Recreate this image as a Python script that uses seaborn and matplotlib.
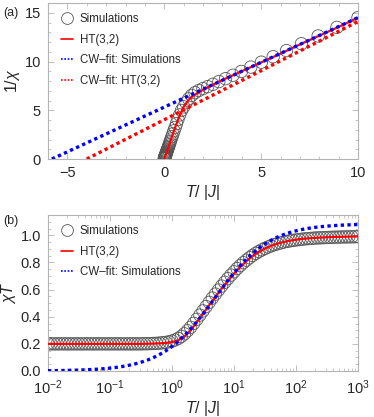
import matplotlib
matplotlib.use('Agg')
import matplotlib.pyplot as plt
import seaborn as sns
import numpy as np
from matplotlib.lines import Line2D
from matplotlib.ticker import AutoMinorLocator, MultipleLocator, LogLocator, NullFormatter

# ---- data ----
# simulation temperatures (log spaced, 0.05 decade), T/|J|
sim_T = [0.0100, 0.0112, 0.0126, 0.0141, 0.0158, 0.0178, 0.0200, 0.0224, 0.0251, 0.0282,
         0.0316, 0.0355, 0.0398, 0.0447, 0.0501, 0.0562, 0.0631, 0.0708, 0.0794, 0.0891,
         0.100, 0.112, 0.126, 0.141, 0.158, 0.178, 0.200, 0.224, 0.251, 0.282,
         0.316, 0.355, 0.398, 0.447, 0.501, 0.562, 0.631, 0.708, 0.794, 0.891,
         1.000, 1.122, 1.259, 1.413, 1.585, 1.778, 1.995, 2.239, 2.512, 2.818,
         3.162, 3.548, 3.981, 4.467, 5.012, 5.623, 6.310, 7.079, 7.943, 8.913,
         10.00, 11.22, 12.59, 14.13, 15.85, 17.78, 19.95, 22.39, 25.12, 28.18,
         31.62, 35.48, 39.81, 44.67, 50.12, 56.23, 63.10, 70.79, 79.43, 89.13,
         100.0, 112.2, 125.9, 141.3, 158.5, 177.8, 199.5, 223.9, 251.2, 281.8,
         316.2, 354.8, 398.1, 446.7, 501.2, 562.3, 631.0, 707.9, 794.3, 891.3,
         1000.0]

# panel (a): 1/chi of the simulations (points with T <= 10)
sim_inv_chi = [0.058, 0.065, 0.073, 0.082, 0.092, 0.103, 0.116, 0.130, 0.146, 0.164,
               0.183, 0.206, 0.231, 0.259, 0.291, 0.326, 0.366, 0.411, 0.461, 0.517,
               0.58, 0.65, 0.73, 0.82, 0.92, 1.03, 1.16, 1.30, 1.45, 1.63,
               1.83, 2.05, 2.30, 2.58, 2.89, 3.23, 3.63, 4.07, 4.52, 4.98,
               5.35, 5.78, 6.17, 6.52, 6.80, 7.02, 7.22, 7.42, 7.66, 7.94,
               8.24, 8.59, 8.98, 9.43, 9.93, 10.49, 11.12, 11.82, 12.62, 13.50,
               14.50]

ht_a_T = [0.0, 0.25, 0.5, 0.75, 1.0, 1.25, 1.5, 1.75, 2.0, 2.5, 3.0, 4.0, 5.0, 6.0, 7.0, 8.0, 9.0, 10.0]
ht_a_inv_chi = [0.0, 1.45, 2.9, 4.25, 5.35, 6.05, 6.5, 6.8, 7.1, 7.6, 8.1, 9.0, 9.9, 10.8, 11.75, 12.65, 13.55, 14.5]

cw_sim_T = [-5.8, 10.0]
cw_sim_inv_chi = [0.0, 14.5]
cw_ht_T = [-4.0, 10.0]
cw_ht_inv_chi = [0.0, 14.1]

# panel (b): chi*T
sim_chiT = [0.200, 0.200, 0.200, 0.200, 0.200, 0.200, 0.200, 0.200, 0.200, 0.200,
            0.200, 0.200, 0.200, 0.200, 0.200, 0.200, 0.200, 0.200, 0.200, 0.200,
            0.200, 0.200, 0.200, 0.200, 0.200, 0.200, 0.200, 0.200, 0.200, 0.200,
            0.200, 0.201, 0.201, 0.202, 0.203, 0.204, 0.206, 0.208, 0.211, 0.215,
            0.221, 0.229, 0.240, 0.255, 0.274, 0.297, 0.322, 0.351, 0.381, 0.412,
            0.443, 0.475, 0.506, 0.537, 0.567, 0.597, 0.626, 0.654, 0.681, 0.707,
            0.731, 0.755, 0.777, 0.798, 0.817, 0.835, 0.852, 0.867, 0.881, 0.893,
            0.904, 0.914, 0.923, 0.931, 0.938, 0.944, 0.950, 0.955, 0.959, 0.963,
            0.966, 0.969, 0.972, 0.974, 0.976, 0.978, 0.980, 0.981, 0.982, 0.983,
            0.984, 0.985, 0.986, 0.987, 0.987, 0.988, 0.988, 0.989, 0.989, 0.990,
            0.990]

line_T = [0.0100, 0.0126, 0.0158, 0.0200, 0.0251, 0.0316, 0.0398, 0.0501, 0.0631, 0.0794,
          0.100, 0.126, 0.158, 0.200, 0.251, 0.316, 0.398, 0.501, 0.631, 0.794,
          1.000, 1.259, 1.585, 1.995, 2.512, 3.162, 3.981, 5.012, 6.310, 7.943,
          10.00, 12.59, 15.85, 19.95, 25.12, 31.62, 39.81, 50.12, 63.10, 79.43,
          100.0, 125.9, 158.5, 199.5, 251.2, 316.2, 398.1, 501.2, 631.0, 794.3,
          1000.0]
ht_chiT = [0.200, 0.200, 0.200, 0.200, 0.200, 0.200, 0.200, 0.200, 0.200, 0.200,
           0.200, 0.200, 0.200, 0.200, 0.200, 0.200, 0.201, 0.202, 0.204, 0.207,
           0.213, 0.226, 0.255, 0.300, 0.360, 0.423, 0.485, 0.547, 0.607, 0.664,
           0.718, 0.767, 0.810, 0.847, 0.878, 0.903, 0.923, 0.939, 0.951, 0.961,
           0.968, 0.974, 0.978, 0.981, 0.984, 0.986, 0.988, 0.989, 0.990, 0.991,
           0.992]
cw_chiT = [0.0022, 0.0027, 0.0034, 0.0043, 0.0054, 0.0068, 0.0086, 0.0108, 0.0135, 0.0170,
           0.0213, 0.0267, 0.0332, 0.0417, 0.0519, 0.0645, 0.0800, 0.0988, 0.1216, 0.1487,
           0.1808, 0.2183, 0.2612, 0.3094, 0.3628, 0.4203, 0.4809, 0.5431, 0.6053, 0.6659,
           0.7233, 0.7766, 0.8248, 0.8676, 0.9049, 0.9369, 0.9639, 0.9866, 1.0053, 1.0207,
           1.0333, 1.0436, 1.0518, 1.0585, 1.0638, 1.0681, 1.0715, 1.0743, 1.0764, 1.0782,
           1.0796]

# ---- style ----
sns.set_style('ticks')
plt.rcParams['font.family'] = ['Liberation Sans', 'DejaVu Sans']
plt.rcParams['mathtext.fontset'] = 'custom'
plt.rcParams['mathtext.rm'] = 'Liberation Sans'
plt.rcParams['mathtext.it'] = 'Liberation Sans:italic'
plt.rcParams['mathtext.default'] = 'it'

frame_col = '#b4b4b4'
circ_col = '#555555'
dot_ls = (0, (1.0, 1.0))

fig = plt.figure(figsize=(3.74, 4.17), dpi=100)
ax_a = fig.add_axes([48 / 374, 1 - 159 / 417, 310 / 374, 156 / 417])
ax_b = fig.add_axes([48 / 374, 1 - 371 / 417, 310 / 374, 156 / 417])


def style_frame(ax):
    for sp in ax.spines.values():
        sp.set_color(frame_col)
        sp.set_linewidth(0.8)
    ax.tick_params(which='both', direction='in', top=True, right=True, color=frame_col,
                   labelsize=10.5, pad=5)
    ax.tick_params(which='major', length=4, width=0.6)
    ax.tick_params(which='minor', length=2, width=0.5)


# ---- panel (a) ----
ax = ax_a
sns.scatterplot(x=sim_T[:len(sim_inv_chi)], y=sim_inv_chi, ax=ax, marker='o', s=80,
                facecolors='none', edgecolors=circ_col, linewidths=0.6, zorder=2, clip_on=True)
sns.lineplot(x=ht_a_T, y=ht_a_inv_chi, ax=ax, color='red', lw=1.6, sort=False, estimator=None, zorder=3)
sns.lineplot(x=cw_sim_T, y=cw_sim_inv_chi, ax=ax, color='blue', lw=2.4, ls=dot_ls, sort=False,
             estimator=None, zorder=4)
sns.lineplot(x=cw_ht_T, y=cw_ht_inv_chi, ax=ax, color='red', lw=2.4, ls=dot_ls, sort=False,
             estimator=None, zorder=4)
ax.set_xlim(-6, 10)
ax.set_ylim(0, 16)
ax.xaxis.set_major_locator(MultipleLocator(5))
ax.xaxis.set_minor_locator(AutoMinorLocator(5))
ax.yaxis.set_major_locator(MultipleLocator(5))
ax.yaxis.set_minor_locator(AutoMinorLocator(5))
style_frame(ax)
ax.set_xlabel(r'$T$/ |$J$|', fontsize=11.5, labelpad=2)
ax.set_ylabel(r'1/$\chi$', fontsize=11.5, labelpad=2)

handles_a = [Line2D([], [], marker='o', ls='', mfc='none', mec=circ_col, mew=0.6, ms=8.5),
             Line2D([], [], color='red', lw=1.2),
             Line2D([], [], color='blue', lw=1.2, ls=(0, (1, 1))),
             Line2D([], [], color='red', lw=1.2, ls=(0, (1, 1)))]
ax.legend(handles_a, ['Simulations', 'HT(3,2)', 'CW\u2013fit: Simulations', 'CW\u2013fit: HT(3,2)'],
          loc='upper left', bbox_to_anchor=(0.02, 0.98), frameon=False, fontsize=8.3,
          handlelength=1.0, handletextpad=0.6, labelspacing=0.75, borderaxespad=0.2)

# ---- panel (b) ----
ax = ax_b
ax.set_xscale('log')
sns.scatterplot(x=sim_T, y=sim_chiT, ax=ax, marker='o', s=80, facecolors='none',
                edgecolors=circ_col, linewidths=0.6, zorder=2)
sns.lineplot(x=line_T, y=ht_chiT, ax=ax, color='red', lw=1.6, sort=False, estimator=None, zorder=3)
sns.lineplot(x=line_T, y=cw_chiT, ax=ax, color='blue', lw=2.4, ls=dot_ls, sort=False,
             estimator=None, zorder=4)
ax.set_xlim(1e-2, 1e3)
ax.set_ylim(0, 1.15)
ax.xaxis.set_major_locator(LogLocator(base=10, numticks=10))
ax.xaxis.set_minor_locator(LogLocator(base=10, subs=np.arange(2, 10), numticks=20))
ax.xaxis.set_minor_formatter(NullFormatter())
ax.yaxis.set_major_locator(MultipleLocator(0.2))
ax.yaxis.set_minor_locator(AutoMinorLocator(4))
ax.yaxis.set_major_formatter(matplotlib.ticker.FormatStrFormatter('%.1f'))
style_frame(ax)
ax.set_xlabel(r'$T$/ |$J$|', fontsize=11.5, labelpad=2)
ax.set_ylabel(r'$\chi T$', fontsize=11.5, labelpad=2)

handles_b = handles_a[:3]
ax.legend(handles_b, ['Simulations', 'HT(3,2)', 'CW\u2013fit: Simulations'],
          loc='upper left', bbox_to_anchor=(0.02, 0.98), frameon=False, fontsize=8.3,
          handlelength=1.0, handletextpad=0.6, labelspacing=0.75, borderaxespad=0.2)

fig.text(3 / 374, 1 - 13 / 417, '(a)', fontsize=9, va='center', ha='left')
fig.text(3 / 374, 1 - 221 / 417, '(b)', fontsize=9, va='center', ha='left')

fig.savefig('out.png', dpi=100)
